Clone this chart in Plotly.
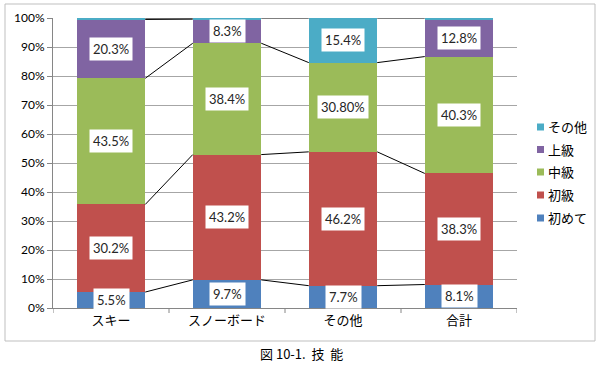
import plotly.graph_objects as go

categories = ["スキー", "スノーボード", "その他", "合計"]
series_names = ["初めて", "初級", "中級", "上級", "その他"]
colors = ["#4F81BD", "#C0504D", "#9BBB59", "#8064A2", "#4BACC6"]

v_first = [5.5, 9.7, 7.7, 8.1]
v_beginner = [30.2, 43.2, 46.2, 38.3]
v_middle = [43.5, 38.4, 30.8, 40.3]
v_advanced = [20.3, 8.3, None, 12.8]
v_other = [0.5, 0.4, 15.4, 0.5]

labels_first = ["5.5%", "9.7%", "7.7%", "8.1%"]
labels_beginner = ["30.2%", "43.2%", "46.2%", "38.3%"]
labels_middle = ["43.5%", "38.4%", "30.80%", "40.3%"]
labels_advanced = ["20.3%", "8.3%", None, "12.8%"]
labels_other = [None, None, "15.4%", None]

y_ticks = [0, 10, 20, 30, 40, 50, 60, 70, 80, 90, 100]
y_ticktext = [f"{t}%" for t in y_ticks]

series_vals = [v_first, v_beginner, v_middle, v_advanced, v_other]
series_labels = [labels_first, labels_beginner, labels_middle, labels_advanced, labels_other]

FONT = "Lato, 'Noto Sans CJK JP', sans-serif"
xs = list(range(len(categories)))
BAR_W = 0.59

# plot-area geometry (pixels)
W, H = 600, 366
ML, MR, MT, MB = 53, 83, 18, 58
PW, PH = W - ML - MR, H - MT - MB


def px_x(px):
    return (px - ML) / PW


def px_y(py):
    return (H - MB - py) / PH


totals = [sum((s[i] or 0) for s in series_vals) for i in xs]
norm = [[(s[i] / totals[i] * 100) if s[i] is not None else None for i in xs] for s in series_vals]

fig = go.Figure()

cum = [0.0] * len(xs)
tops = []
for k, s in enumerate(norm):
    top = []
    for i in xs:
        if s[i] is None:
            top.append(None)
        else:
            cum[i] += s[i]
            top.append(cum[i])
    tops.append(top)

for k, name in enumerate(series_names):
    fig.add_trace(go.Bar(
        x=xs, y=[v if v is not None else 0 for v in norm[k]], name=name,
        marker=dict(color=colors[k], line=dict(width=0)),
        width=BAR_W, hoverinfo="skip", showlegend=False,
    ))

# series lines
for k in range(len(series_names)):
    top = tops[k]
    lx, ly = [], []
    for i in range(len(xs) - 1):
        if top[i] is None or top[i + 1] is None:
            continue
        lx += [xs[i] + BAR_W / 2, xs[i + 1] - BAR_W / 2, None]
        ly += [top[i], top[i + 1], None]
    if lx:
        fig.add_trace(go.Scatter(x=lx, y=ly, mode="lines",
                                 line=dict(color="#000000", width=1),
                                 showlegend=False, hoverinfo="skip"))

# data labels
for k in range(len(series_names)):
    for i in xs:
        lab = series_labels[k][i]
        if lab is None or norm[k][i] is None:
            continue
        center = tops[k][i] - norm[k][i] / 2
        fig.add_annotation(x=xs[i], y=center, text=lab, showarrow=False,
                           bgcolor="white", borderpad=3,
                           font=dict(family=FONT, size=13, color="#262626"))

# manual legend (top entry = last series)
leg_y = [127, 149.5, 172, 195, 218]
for j, k in enumerate(reversed(range(len(series_names)))):
    cy = leg_y[j]
    fig.add_shape(type="rect", xref="paper", yref="paper",
                  x0=px_x(537), x1=px_x(544), y0=px_y(cy + 3.5), y1=px_y(cy - 3.5),
                  fillcolor=colors[k], line=dict(width=0))
    fig.add_annotation(xref="paper", yref="paper", x=px_x(546), y=px_y(cy),
                       text=series_names[k], showarrow=False, xanchor="left", yanchor="middle",
                       font=dict(family=FONT, size=13, color="#000000"))

# outer border
fig.add_shape(type="rect", xref="paper", yref="paper",
              x0=px_x(5), x1=px_x(595), y0=px_y(341), y1=px_y(4),
              line=dict(color="#BFBFBF", width=1), layer="below")

# category boundary tick marks
for b in [-0.5, 0.5, 1.5, 2.5, 3.5]:
    fig.add_shape(type="line", xref="x", yref="paper", x0=b, x1=b, y0=0, y1=px_y(313),
                  line=dict(color="#868686", width=1))

fig.add_annotation(xref="paper", yref="paper", x=px_x(301), y=px_y(353),
                   text="図 10-1.  技  能", showarrow=False,
                   xanchor="center", yanchor="middle",
                   font=dict(family="'Noto Sans CJK JP', sans-serif", size=13, color="#000000"))

fig.update_layout(
    barmode="stack",
    width=W, height=H,
    margin=dict(l=ML, r=MR, t=MT, b=MB, autoexpand=False),
    paper_bgcolor="white", plot_bgcolor="white",
    font=dict(family=FONT, size=12, color="#000000"),
    showlegend=False,
)
fig.update_xaxes(range=[-0.5, 3.5], tickmode="array", tickvals=xs, ticktext=categories,
                 showgrid=False, showline=True, linecolor="#868686", linewidth=1,
                 ticks="", tickfont=dict(family=FONT, size=13, color="#000000"),
                 zeroline=False, automargin=False)
fig.update_yaxes(range=[0, 100], tickmode="array", tickvals=y_ticks, ticktext=y_ticktext,
                 showgrid=True, gridcolor="#A6A6A6", gridwidth=1,
                 showline=True, linecolor="#868686", linewidth=1,
                 ticks="outside", ticklen=5, tickcolor="#868686",
                 tickfont=dict(family=FONT, size=12, color="#000000"),
                 zeroline=False, automargin=False)

fig.write_html("out.html", config={"displayModeBar": False},
               post_script="document.body.style.margin='0';document.body.style.overflow='hidden';")
